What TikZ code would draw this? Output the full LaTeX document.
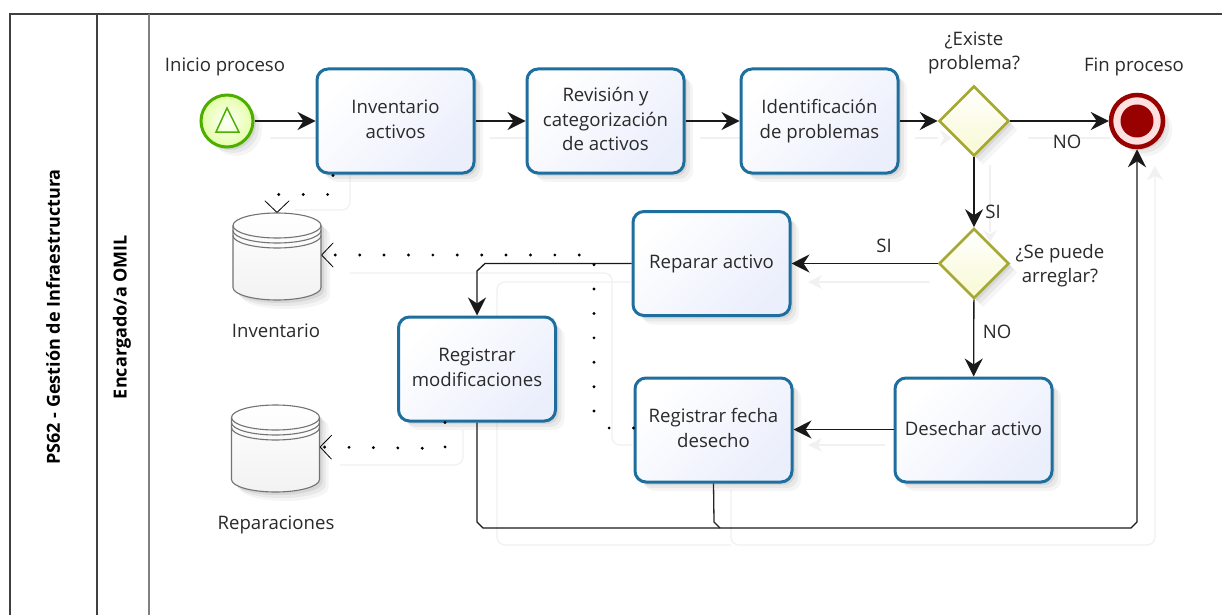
\documentclass[tikz,border=0pt]{standalone}
\usepackage{fontspec}
\setmainfont{Open Sans}
\usetikzlibrary{arrows.meta,shapes.geometric,shadows,calc}
\definecolor{txt}{HTML}{2A2A2A}
\definecolor{taskblue}{HTML}{1F6F9E}
\definecolor{taskfill}{HTML}{EBEFFC}
\definecolor{gwline}{HTML}{A6A834}
\definecolor{gwfill}{HTML}{F8F9D2}
\definecolor{ghostc}{HTML}{F1F1F1}
\newcommand\upb{\\[-20.5pt]\mbox{}}
\tikzset{
  softshadow/.style={
    general shadow={shadow xshift=9pt,shadow yshift=-9pt,fill=black,opacity=.04},
    general shadow={shadow xshift=6pt,shadow yshift=-6pt,fill=black,opacity=.05},
    general shadow={shadow xshift=3pt,shadow yshift=-3pt,fill=black,opacity=.07}},
  label text/.style={text=txt,font=\fontsize{18.6}{24.5}\selectfont,align=center,inner sep=0pt},
  taskbox/.style={softshadow,draw=taskblue,line width=3pt,rounded corners=11pt,left color=white,right color=taskfill,shading angle=45,
    minimum width=157pt,minimum height=104pt,inner sep=0pt,text=txt,font=\fontsize{18.6}{24.5}\selectfont,align=center},
  gateway/.style={softshadow,diamond,draw=gwline,line width=2.6pt,top color=white,bottom color=gwfill,
    minimum width=70pt,minimum height=70pt,inner sep=0pt},
  flow/.style={line width=1.3pt,draw=black!90,-{Stealth[length=18pt,width=18pt,inset=6pt]}},
  plainflow/.style={line width=1.3pt,draw=black!85},
  assoc/.style={line width=3.2pt,line cap=round,dash pattern=on 0pt off 24.4pt,
     -{Straight Barb[length=11.5pt,width=24pt,line width=.8pt,round]}},
  ghost/.style={line width=1.3pt,draw=ghostc,rounded corners=8pt},
  ghosttip/.style={fill=ghostc,draw=none},
  storebox/.style={minimum width=88pt,minimum height=87pt,inner sep=0pt},
  storeline/.style={draw=black!55,line width=1.1pt},
  lanetitle/.style={rotate=90,text=black,font=\bfseries\fontsize{18}{20}\selectfont,inner sep=0pt}
}
\begin{document}
\begin{tikzpicture}[x=1pt,y=-1pt]
\useasboundingbox (0,0) rectangle (1222,615);
\fill[white] (0,0) rectangle (1222,615);
% lanes
\draw[line width=1.6pt,draw=black!75] (10,615) -- (10,14) -- (1222,14);
\draw[line width=1.6pt,draw=black!75] (97,14) -- (97,615);
\draw[line width=1.4pt,draw=black!50] (149,14) -- (149,615);
\node[lanetitle] (pool) at (53,317) {PS62 - Gestión de Infraestructura};
\node[lanetitle] (lane) at (122,317) {Encargado/a OMIL};
% faint ghost lines
\draw[ghost] (270,138) -- (317,138) (490,138) -- (527,138) (700,138) -- (741,138) (915,138) -- (938,138) (1028,138) -- (1110,138);
\draw[ghost] (350,175) -- (350,210) -- (295,210);
\draw[ghost] (350,273) -- (612,273) -- (612,445) -- (632,445);
\draw[ghost] (990,165) -- (990,232);
\draw[ghost] (930,282) -- (815,282);
\draw[ghost] (630,282) -- (497,282) -- (497,545) -- (731,545);
\draw[ghost] (463,430) -- (463,465) -- (340,465);
\draw[ghost] (885,445) -- (815,445);
\draw[ghost] (731,490) -- (731,545) -- (1155,545) -- (1155,175);
\fill[ghosttip] (1155,166) -- (1163,180) -- (1155,176) -- (1147,180) -- cycle;
\fill[ghosttip] (808,282) -- (822,275) -- (818,282) -- (822,289) -- cycle;
\fill[ghosttip] (808,445) -- (822,438) -- (818,445) -- (822,452) -- cycle;
\fill[ghosttip] (952,138) -- (940,130) -- (944,138) -- (940,146) -- cycle;
\fill[ghosttip] (990,242) -- (983,230) -- (990,234) -- (997,230) -- cycle;
% events
\node[softshadow,circle,draw=green!55!black!70!yellow,line width=3pt,inner color=white,outer color=green!30!yellow!35,minimum size=52pt,inner sep=0pt] (start) at (227,121) {};
\draw[line width=1.5pt,draw=green!55!black!70!yellow] (227,108) -- (239,132) -- (216,132) -- cycle;
\node[softshadow,circle,draw=red!60!black,line width=4.5pt,fill=red!12,minimum size=52pt,inner sep=0pt] (finish) at (1137,121) {};
\node[circle,fill=red!60!black,minimum size=33pt,inner sep=0pt] (finishdot) at (1137,121) {};
% tasks
\node[taskbox] (t1) at (395.5,121) {Inventario\\activos\upb};
\node[taskbox] (t2) at (605.5,121) {Revisión y\\categorización\\de activos\upb};
\node[taskbox] (t3) at (819.5,121) {Identificación\\de problemas};
\node[taskbox] (t4) at (711.5,263.5) {Reparar activo};
\node[taskbox] (t5) at (477,369) {Registrar\\modificaciones\upb};
\node[taskbox] (t6) at (713.5,430) {Registrar fecha\\desecho\upb};
\node[taskbox] (t7) at (973.5,430) {Desechar activo\upb};
% gateways
\node[gateway] (g1) at (974,121) {};
\node[gateway] (g2) at (974,263.5) {};
% stores
\node[storebox] (s1) at (277,256.5) {};
\node[storebox] (s2) at (275.5,448.5) {};
\foreach \s in {s1,s2}{
 \begin{scope}[shift={(\s.center)}]
  \foreach \d/\o in {9/.04,6/.05,3/.07}{
  \path[fill=black,opacity=\o] (-44+\d,-31+\d) arc[start angle=180,end angle=0,x radius=44pt,y radius=12.5pt] -- (44+\d,31+\d) arc[start angle=0,end angle=-180,x radius=44pt,y radius=12.5pt] -- cycle;}
  \draw[storeline,top color=white,bottom color=black!5] (-44,-31) arc[start angle=180,end angle=0,x radius=44pt,y radius=12.5pt] -- (44,31) arc[start angle=0,end angle=-180,x radius=44pt,y radius=12.5pt] -- cycle;
  \draw[storeline] (-44,-31) arc[start angle=180,end angle=360,x radius=44pt,y radius=12.5pt];
  \draw[storeline] (-44,-26) arc[start angle=180,end angle=360,x radius=44pt,y radius=12.5pt];
  \draw[storeline] (-44,-21) arc[start angle=180,end angle=360,x radius=44pt,y radius=12.5pt];
 \end{scope}}
% sequence flows
\draw[flow] (start) -- (t1);
\draw[flow] (t1) -- (t2);
\draw[flow] (t2) -- (t3);
\draw[flow] (t3) -- (g1);
\draw[flow] (g1) -- (finish);
\draw[flow] (g1) -- (g2);
\draw[flow] (g2) -- (t4);
\draw[flow] (g2) -- (t7);
\draw[flow] (t7.west |- 0,429.5) -- (t6.east |- 0,429.5);
\draw[flow] (t4.west) -- (485,263.5) -- (477,271) -- (t5.north);
\draw[flow] (t5.south) -- (477,522) -- (483,528) -- (1131,528) -- (1137,522) -- (finish.south);
\draw[plainflow] (t6.south) -- (714,522) -- (720,528);
% associations
\draw[assoc] ([xshift=-62.5pt,yshift=-1pt]t1.south) -- ++(0,19) -- ++(-56,0) -- (s1.north);
\draw[assoc] (t6.west |- 0,428) -- (607,428) -- (594,415) -- (594,255) -- (s1.east |- 0,255);
\draw[assoc] ([xshift=-32pt]t5.south) -- ++(0,26) -- (s2.east |- 0,447);
% labels
\node[label text] (ls) at (225,67) {Inicio proceso};
\node[label text] (lf) at (1134,67) {Fin proceso};
\node[label text] (lg1) at (974,53) {¿Existe\\problema?};
\node[label text] (lg2) at (1060,265.5) {¿Se puede\\arreglar?};
\node[label text] (ls1) at (276,331) {Inventario};
\node[label text] (ls2) at (276,525) {Reparaciones};
\node[label text] (no1) at (1067,142) {NO};
\node[label text] (si1) at (993,212) {SI};
\node[label text] (si2) at (884,246) {SI};
\node[label text] (no2) at (997,332) {NO};
\end{tikzpicture}
\end{document}
